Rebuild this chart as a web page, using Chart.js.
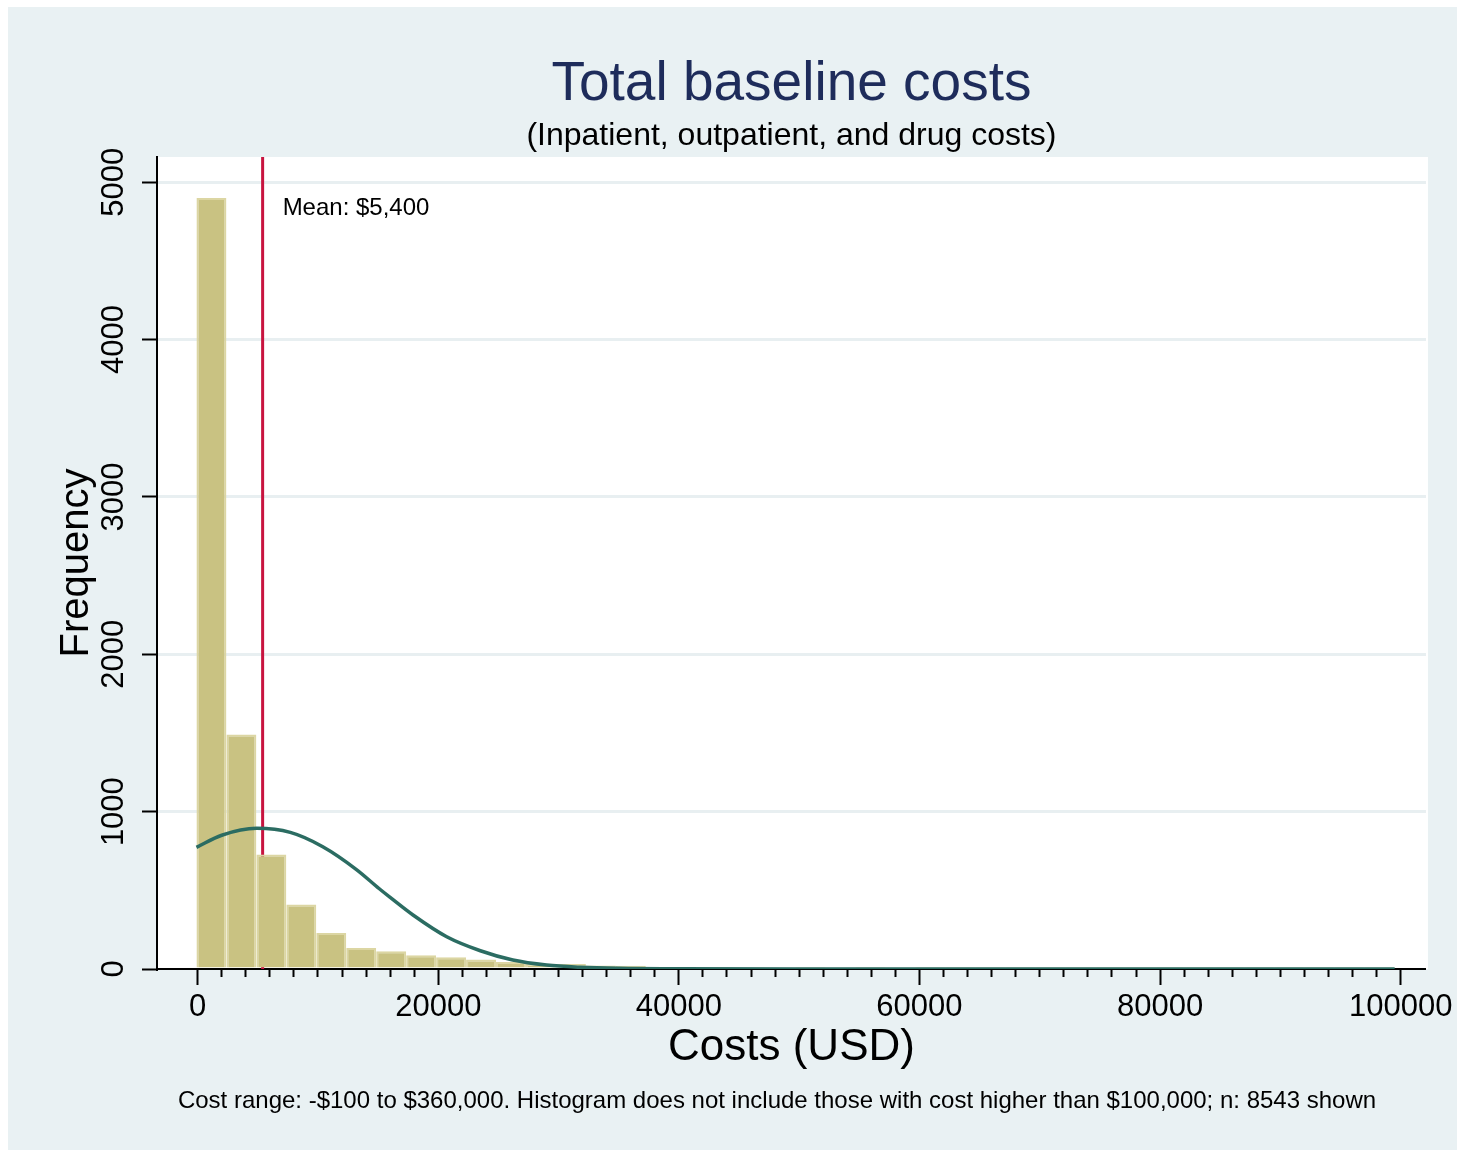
<!DOCTYPE html>
<html>
<head>
<meta charset="utf-8">
<script src="https://cdn.jsdelivr.net/npm/chart.js@4/dist/chart.umd.min.js"></script>
<style>
  html, body { margin: 0; padding: 0; background: #ffffff; }
  canvas { display: block; }
</style>
</head>
<body>
<canvas id="costChart" width="1457" height="1153"></canvas>
<script>
const FONT = "'Liberation Sans', Arial, Helvetica, sans-serif";

// Histogram of total baseline costs (USD): 40 bins, each 2,490 wide, starting at -$100
const binStart = -100;
const binWidth = 2490;
const binCounts = [4900, 1490, 727, 410, 229, 134, 113, 87, 75, 60,
                   45, 33, 32, 23, 21, 13, 12, 12, 11, 10,
                   7, 10, 7, 10, 6, 6, 5, 5, 7, 5,
                   4, 5, 4, 4, 3, 3, 4, 3, 2, 6];

// Overlaid normal density, scaled to frequency
const curveX = [-100, 2000, 4900, 7700, 10400, 13200, 15100, 16000, 17900, 20700,
                23500, 26200, 29000, 31800, 35000, 40000, 50000, 99500];
const curveY = [773, 850, 894, 868, 777, 632, 510, 455, 343, 205,
                116, 57, 25, 11, 4, 1, 0, 0];

// Mean cost marker
const meanCost = 5400;
const meanLabel = 'Mean: $5,400';

// Axis ranges and ticks
const xMin = -3380, xMax = 102100;
const xMajorTicks = [0, 20000, 40000, 60000, 80000, 100000];
const xMinorStep = 2000;
const yMin = 0, yMax = 5160;
const yTicks = [0, 1000, 2000, 3000, 4000, 5000];

const titleText = 'Total baseline costs';
const subtitleText = '(Inpatient, outpatient, and drug costs)';
const noteText = 'Cost range: -$100 to $360,000. Histogram does not include those with cost higher than $100,000; n: 8543 shown';

const binCenters = binCounts.map((_, i) => binStart + binWidth * (i + 0.5));
const barPoints = binCounts.map((c, i) => ({ x: binCenters[i], y: c }));
const curvePoints = curveX.map((x, i) => ({ x: x, y: curveY[i] }));
const meanPoints = [{ x: meanCost, y: yMin }, { x: meanCost, y: yMax }];

// every tick mark on the cost axis: minor marks between the labelled majors
const xTickMarks = [];
for (let v = xMajorTicks[0]; v <= xMajorTicks[xMajorTicks.length - 1]; v += xMinorStep) {
  xTickMarks.push(v);
}
const isMajor = v => xMajorTicks.includes(v);

const decor = {
  id: 'decor',
  beforeDraw(chart) {
    const { ctx, chartArea: a } = chart;
    ctx.save();
    ctx.fillStyle = '#ffffff';
    ctx.fillRect(0, 0, chart.width, chart.height);
    ctx.fillStyle = '#e9f1f3';
    ctx.fillRect(8, 7, chart.width - 8, chart.height - 10);
    ctx.fillStyle = '#ffffff';
    ctx.fillRect(a.left, a.top, a.right - a.left + 2, a.bottom - a.top);
    ctx.restore();
  },
  afterDatasetsDraw(chart) {
    const { ctx, chartArea: a, scales } = chart;
    ctx.save();
    ctx.fillStyle = '#000000';
    ctx.font = '24px ' + FONT;
    ctx.textAlign = 'left';
    ctx.textBaseline = 'alphabetic';
    ctx.fillText(meanLabel, scales.x.getPixelForValue(meanCost) + 20, a.top + 58);
    ctx.restore();
  },
  afterDraw(chart) {
    const { ctx, chartArea: a } = chart;
    const cx = (a.left + a.right) / 2;
    ctx.save();
    ctx.textAlign = 'center';
    ctx.textBaseline = 'alphabetic';
    ctx.fillStyle = '#1e2c5b';
    ctx.font = '55px ' + FONT;
    ctx.fillText(titleText, cx, 100);
    ctx.fillStyle = '#000000';
    ctx.font = '32px ' + FONT;
    ctx.fillText(subtitleText, cx, 145);
    ctx.font = '24px ' + FONT;
    ctx.fillText(noteText, 777, 1108);
    ctx.restore();
  }
};

new Chart(document.getElementById('costChart'), {
  type: 'bar',
  data: {
    datasets: [
      {
        type: 'line',
        label: 'Normal density',
        data: curvePoints,
        borderColor: '#2b6c62',
        borderWidth: 3.5,
        pointRadius: 0,
        cubicInterpolationMode: 'monotone',
        fill: false,
        order: 1
      },
      {
        type: 'bar',
        label: 'Frequency',
        data: barPoints,
        backgroundColor: '#c9c282',
        borderColor: '#dcd6a3',
        borderWidth: 2,
        categoryPercentage: 1,
        // bar width follows the bin width relative to the minor tick spacing
        barPercentage: binWidth / xMinorStep,
        order: 2
      },
      {
        type: 'line',
        label: 'Mean',
        data: meanPoints,
        borderColor: '#c8143f',
        borderWidth: 3,
        pointRadius: 0,
        fill: false,
        order: 3
      }
    ]
  },
  options: {
    responsive: false,
    devicePixelRatio: 1,
    animation: false,
    layout: { padding: { left: 0, top: 157, right: 30, bottom: 0 } },
    plugins: {
      legend: { display: false },
      tooltip: { enabled: false },
      title: { display: false }
    },
    scales: {
      x: {
        type: 'linear',
        bounds: 'data',
        offset: false,
        min: xMin,
        max: xMax,
        afterFit: s => { s.height = 184; },
        afterBuildTicks: s => { s.ticks = xTickMarks.map(v => ({ value: v })); },
        border: { display: true, color: '#000000', width: 2 },
        grid: {
          display: true,
          offset: false,
          drawOnChartArea: false,
          drawTicks: true,
          tickLength: 16,
          tickColor: '#000000',
          tickWidth: 2,
          tickBorderDash: ctx => (ctx.tick && !isMajor(ctx.tick.value)) ? [7, 100] : []
        },
        ticks: {
          autoSkip: false,
          minRotation: 0,
          maxRotation: 0,
          padding: 4,
          color: '#000000',
          font: { family: FONT, size: 31 },
          callback: v => isMajor(v) ? String(v) : ''
        },
        title: {
          display: true,
          text: 'Costs (USD)',
          color: '#000000',
          font: { family: FONT, size: 44 },
          padding: { top: 0, bottom: 79 }
        }
      },
      y: {
        type: 'linear',
        bounds: 'data',
        min: yMin,
        max: yMax,
        afterFit: s => { s.width = 157; },
        afterBuildTicks: s => { s.ticks = yTicks.map(v => ({ value: v })); },
        border: { display: true, color: '#000000', width: 2 },
        grid: {
          color: ctx => (ctx.tick && ctx.tick.value === 0) ? 'rgba(0,0,0,0)' : '#e8eff1',
          lineWidth: 3,
          tickLength: 15,
          tickColor: '#000000',
          tickWidth: 2
        },
        ticks: {
          autoSkip: false,
          minRotation: 90,
          maxRotation: 90,
          crossAlign: 'center',
          padding: -7,
          color: '#000000',
          font: { family: FONT, size: 31 },
          callback: v => String(v)
        },
        title: {
          display: true,
          text: 'Frequency',
          color: '#000000',
          font: { family: FONT, size: 40 },
          padding: { top: 53, bottom: 0 }
        }
      }
    }
  },
  plugins: [decor]
});
</script>
</body>
</html>
